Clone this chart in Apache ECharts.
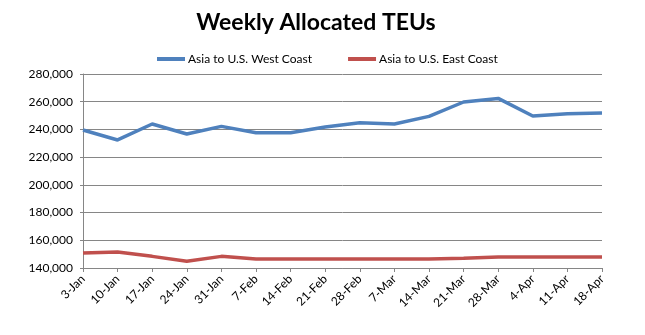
<!DOCTYPE html>
<html>
<head>
<meta charset="utf-8">
<script src="https://cdn.jsdelivr.net/npm/echarts@6/dist/echarts.min.js"></script>
<style>html,body{margin:0;padding:0;background:#fff}#c{width:645px;height:335px}</style>
</head>
<body>
<div id="c"></div>
<script>
const categories = ['3-Jan','10-Jan','17-Jan','24-Jan','31-Jan','7-Feb','14-Feb','21-Feb','28-Feb','7-Mar','14-Mar','21-Mar','28-Mar','4-Apr','11-Apr','18-Apr'];
const westCoast = [239600,232400,243900,236700,242200,237600,237600,241800,244900,243900,249400,259800,262400,249700,251400,251900];
const eastCoast = [150800,151600,148400,144800,148400,146500,146500,146500,146500,146500,146500,147000,148000,148000,148000,148000];
const seriesNames = ['Asia to U.S. West Coast','Asia to U.S. East Coast'];
const yMin = 140000, yMax = 280000, yStep = 20000;

const FONT = 'Lato, "Liberation Sans", sans-serif';
const chart = echarts.init(document.getElementById('c'), null, {renderer:'canvas'});
chart.setOption({
  animation:false,
  backgroundColor:'#fff',
  title:{text:'Weekly Allocated TEUs', left:311, textAlign:'center', top:6,
    textStyle:{fontFamily:FONT, fontWeight:'bold', fontSize:23, color:'#000'}},
  legend:{left:152, top:48, itemWidth:28, itemHeight:4, itemGap:36, icon:'rect',
    textStyle:{fontFamily:FONT, fontSize:12, color:'#000', padding:[0,0,0,-2]},
    data:seriesNames},
  grid:{left:83, top:74, right:43, bottom:67, containLabel:false},
  xAxis:{type:'category', data:categories, boundaryGap:false,
    axisLine:{lineStyle:{color:'#868686', width:1}},
    axisTick:{show:true, length:4, alignWithLabel:true, lineStyle:{color:'#868686'}},
    axisLabel:{rotate:45, interval:0, fontFamily:FONT, fontSize:12, color:'#000', margin:9},
    splitLine:{show:false}},
  yAxis:{type:'value', min:yMin, max:yMax, interval:yStep,
    axisLine:{show:true, lineStyle:{color:'#868686'}},
    axisTick:{show:true, length:3, lineStyle:{color:'#868686'}},
    axisLabel:{fontFamily:FONT, fontSize:12, color:'#000', margin:10,
      formatter:v=>v.toLocaleString('en-US')},
    splitLine:{lineStyle:{color:'#868686', width:1}}},
  series:[
    {name:seriesNames[0], type:'line', data:westCoast, symbol:'none',
      itemStyle:{color:'#4F81BD'}, lineStyle:{color:'#4F81BD', width:3.5}},
    {name:seriesNames[1], type:'line', data:eastCoast, symbol:'none',
      itemStyle:{color:'#C0504D'}, lineStyle:{color:'#C0504D', width:3.5}}
  ]
});
</script>
</body>
</html>
